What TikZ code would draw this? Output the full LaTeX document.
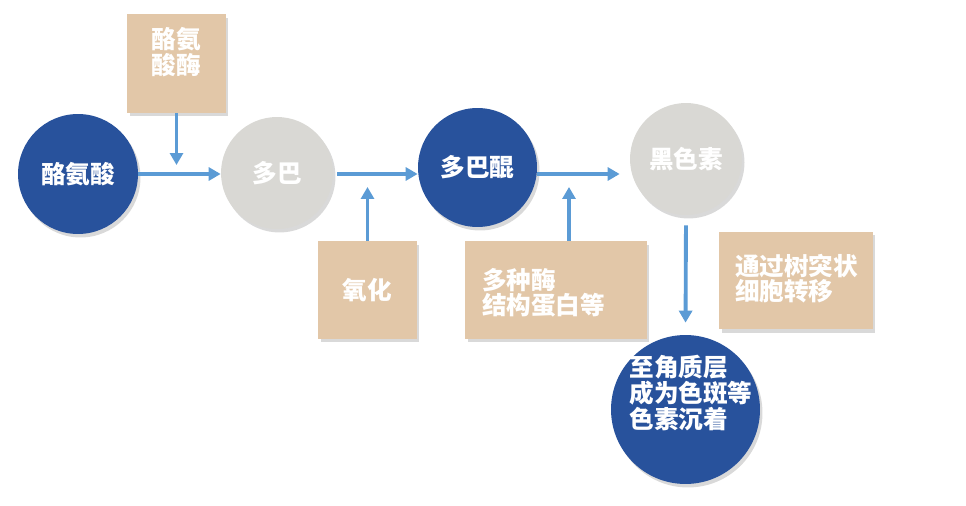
\documentclass[tikz,border=0pt]{standalone}
\usepackage{fontspec}
\newfontfamily\cjk{Noto Sans CJK SC}
\usetikzlibrary{arrows.meta,positioning,calc,shadows}
\definecolor{cblue}{RGB}{40,82,156}
\definecolor{cgray}{RGB}{217,216,212}
\definecolor{ctan}{RGB}{226,199,168}
\definecolor{carrow}{RGB}{91,155,213}
\newcommand{\cjkfont}{\cjk\bfseries\fontsize{14}{13.4}\selectfont}
\tikzset{
  mol/.style={circle, inner sep=0pt, text=white, font=\cjkfont,
    drop shadow={shadow xshift=0.05cm, shadow yshift=-0.07cm, opacity=0.3}},
  molblue/.style={mol, fill=cblue},
  molgray/.style={mol, fill=cgray},
  helper/.style={rectangle, fill=ctan, inner sep=0pt, text=white, font=\cjkfont,
    drop shadow={shadow xshift=0.05cm, shadow yshift=-0.07cm, opacity=0.3}},
  flow/.style={carrow, line width=2.2pt, -{Triangle[length=0.24cm,width=0.26cm]}}
}

\begin{document}
\begin{tikzpicture}[x=0.02cm,y=-0.02cm]
    \useasboundingbox (0,0) rectangle (966,506);
    \coordinate (row) at (0,174);
    % molecules
    \node[molblue, minimum size=2.4cm] (tyr) at (78,174) {酪氨酸};
    \node[molgray, minimum size=2.24cm] (dopa) at (277,173) {多巴};
    \node[molblue, minimum size=2.38cm] (dq) at (477.5,167.5) {多巴醌};
    \node[molgray, minimum size=2.24cm] (mel) at (686,159) {黑色素};
    \node[molblue, minimum size=2.98cm,
      label={[xshift=0.11cm, yshift=0.33cm, align=left, text=white, font=\cjkfont]center:至角质层\\成为色斑等\\色素沉着}]
      (dep) at (685.5,409.5) {};
    % helpers
    \node[helper, minimum width=1.98cm, minimum height=1.98cm, align=center, text depth=0.5cm]
      (enz) at (176.5,63.5) {酪氨\\酸酶};
    \node[helper, minimum width=1.98cm, minimum height=1.96cm] (ox) at (367.5,290) {氧化};
    \node[helper, minimum height=1.96cm, inner xsep=0.34cm, text width=2.96cm, align=left, text depth=0.46cm]
      (misc) at (556,290) {多种酶\\结构蛋白等};
    \node[helper, minimum height=1.96cm, inner xsep=0.32cm, text width=2.44cm, align=left, text depth=0.64cm]
      (trans) at (796,280.5) {通过树突状\\细胞转移};
    % arrows
    \coordinate (misctop) at ([xshift=0.26cm]misc.north);
    \draw[flow] (tyr.east |- row) -- (dopa.west |- row);
    \draw[flow, shorten <=0.08cm] (dopa.east |- row) -- (dq.west |- row);
    \draw[flow, shorten >=0.2cm] (dq.east |- row) -- (mel.west |- row);
    \draw[flow, shorten >=0.18cm] (enz.south) -- (enz.south |- row);
    \draw[flow, shorten >=0.26cm] (ox.north) -- (ox.north |- row);
    \draw[flow, shorten >=0.26cm] (misctop) -- (misctop |- row);
    \draw[flow, shorten <=0.2cm, shorten >=0.24cm] (mel.south) -- (dep.north);
\end{tikzpicture}
\end{document}
